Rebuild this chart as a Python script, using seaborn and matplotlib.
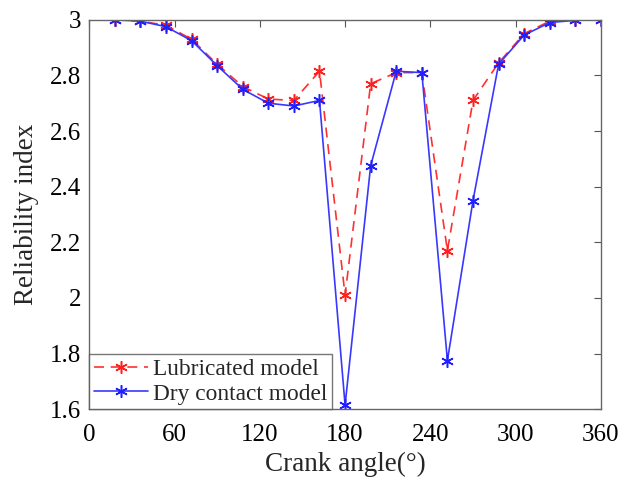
import numpy as np
import pandas as pd
import matplotlib
matplotlib.use('Agg')
import matplotlib.pyplot as plt
import seaborn as sns

# dados
angulo = [18, 36, 54, 72, 90, 108, 126, 144, 162, 180,
          198, 216, 234, 252, 270, 288, 306, 324, 342, 360]
lubrificado = [3.0, 2.995, 2.98, 2.93, 2.84, 2.76, 2.715, 2.71, 2.815, 2.01,
               2.77, 2.81, 2.81, 2.17, 2.71, 2.845, 2.95, 2.995, 2.998, 3.0]
seco = [3.0, 2.995, 2.975, 2.925, 2.835, 2.75, 2.70, 2.69, 2.71, 1.615,
        2.475, 2.815, 2.81, 1.775, 2.35, 2.84, 2.945, 2.99, 2.998, 3.0]

sns.set_style('white')
plt.rcParams['font.family'] = ['Liberation Serif', 'DejaVu Serif']

fig, ax = plt.subplots(figsize=(6.24, 4.82), dpi=100)
fig.subplots_adjust(left=0.143, right=0.963, top=0.959, bottom=0.151)

asterisco = (6, 2, 0)

sns.lineplot(x=angulo, y=lubrificado, ax=ax, color='#ff3030', linestyle=(0, (6, 4)),
             marker=asterisco, markersize=9, markeredgecolor='#ff2020',
             markeredgewidth=1.1, linewidth=1.2, label='Lubricated model')
sns.lineplot(x=angulo, y=seco, ax=ax, color='#3838ff', linestyle='-',
             marker=asterisco, markersize=9, markeredgecolor='#2020ff',
             markeredgewidth=1.1, linewidth=1.2, label='Dry contact model')

ax.set_xlim(0, 360)
ax.set_ylim(1.6, 3.0)
ax.set_xticks(range(0, 361, 60))
ax.set_yticks(np.arange(1.6, 3.01, 0.2))
ax.set_yticklabels(['1.6', '1.8', '2', '2.2', '2.4', '2.6', '2.8', '3'])
ax.tick_params(direction='in', top=True, right=True, length=5, width=0.8,
               labelsize=18, color='#555555', labelcolor='black')
ax.tick_params(axis='x', pad=11)
ax.tick_params(axis='y', pad=6)
for s in ax.spines.values():
    s.set_color('#666666')
    s.set_linewidth(1.0)

ax.set_xlabel('Crank angle(°)', fontsize=19.5, labelpad=4)
ax.set_ylabel('Reliability index', fontsize=19.5, labelpad=8)

leg = ax.legend(loc='lower left', fontsize=16.8, frameon=True, fancybox=False,
                borderaxespad=0, handlelength=2.3, handletextpad=0.25,
                borderpad=0.2, labelspacing=0.15)
leg.get_frame().set_edgecolor('#555555')
leg.get_frame().set_linewidth(1.0)

plt.savefig('out.png', dpi=100)
